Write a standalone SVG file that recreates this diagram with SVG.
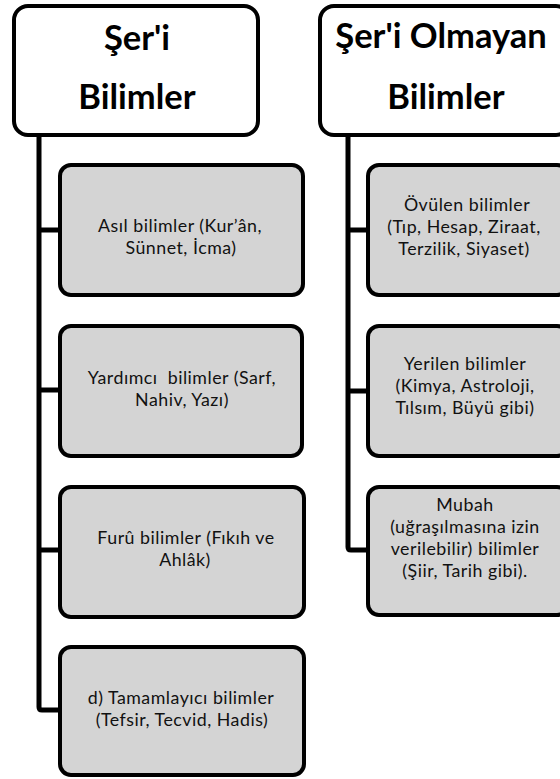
<svg xmlns="http://www.w3.org/2000/svg" width="560" height="779" viewBox="0 0 560 779">
<style>
.hdr{fill:#ffffff;stroke:#000;stroke-width:4}
.box{fill:#d4d4d4;stroke:#000;stroke-width:4}
.ht{font-family:Lato,"Liberation Sans",sans-serif;font-weight:bold;font-size:34.5px;fill:#000;text-anchor:middle}
.bt{font-family:Lato,"Liberation Sans",sans-serif;font-size:17.8px;letter-spacing:0.5px;fill:#111;text-anchor:middle;white-space:pre}
.con{fill:none;stroke:#000;stroke-width:5;stroke-linejoin:round}
</style>
<rect width="560" height="779" fill="#fff"/>
<g id="connectors">
<path class="con" d="M39,136 V707 Q39,710 42,710 H60"/>
<path class="con" d="M39,230 H60 M39,390 H60 M39,550 H60"/>
<path class="con" d="M348,135 V547 Q348,550 351,550 H368"/>
<path class="con" d="M348,230 H368 M348,391 H368"/>
</g>
<g id="h1">
<rect class="hdr" x="14" y="6" width="244" height="129" rx="14"/>
<text class="ht" x="137" y="50">Şer'i</text>
<text class="ht" x="137" y="109">Bilimler</text>
</g>
<g id="h2">
<rect class="hdr" x="320" y="6" width="250" height="129" rx="14"/>
<text class="ht" x="441" y="48">Şer'i Olmayan</text>
<text class="ht" x="446" y="109">Bilimler</text>
</g>
<g id="l1">
<rect class="box" x="60" y="165" width="243" height="130" rx="11"/>
<text class="bt" x="180" y="232">Asıl bilimler (Kur’ân,</text>
<text class="bt" x="181" y="254">Sünnet, İcma)</text>
</g>
<g id="l2">
<rect class="box" x="60" y="326" width="242" height="130" rx="11"/>
<text class="bt" x="182" y="384" xml:space="preserve">Yardımcı  bilimler (Sarf,</text>
<text class="bt" x="182" y="406">Nahiv, Yazı)</text>
</g>
<g id="l3">
<rect class="box" x="60" y="487" width="244" height="130" rx="11"/>
<text class="bt" x="186" y="544">Furû bilimler (Fıkıh ve</text>
<text class="bt" x="185" y="566">Ahlâk)</text>
</g>
<g id="l4">
<rect class="box" x="60" y="647" width="244" height="128" rx="11"/>
<text class="bt" x="181" y="704">d) Tamamlayıcı bilimler</text>
<text class="bt" x="182" y="726">(Tefsir, Tecvid, Hadis)</text>
</g>
<g id="r1">
<rect class="box" x="368" y="165" width="200" height="130" rx="11"/>
<text class="bt" x="467" y="211">Övülen bilimler</text>
<text class="bt" x="464" y="233">(Tıp, Hesap, Ziraat,</text>
<text class="bt" x="464" y="255">Terzilik, Siyaset)</text>
</g>
<g id="r2">
<rect class="box" x="368" y="326" width="200" height="130" rx="11"/>
<text class="bt" x="465" y="370">Yerilen bilimler</text>
<text class="bt" x="465" y="392">(Kimya, Astroloji,</text>
<text class="bt" x="465" y="414">Tılsım, Büyü gibi)</text>
</g>
<g id="r3">
<rect class="box" x="368" y="487" width="200" height="128" rx="11"/>
<text class="bt" x="465" y="511">Mubah</text>
<text class="bt" x="465" y="533">(uğraşılmasına izin</text>
<text class="bt" x="465" y="555">verilebilir) bilimler</text>
<text class="bt" x="465" y="577">(Şiir, Tarih gibi).</text>
</g>
</svg>
